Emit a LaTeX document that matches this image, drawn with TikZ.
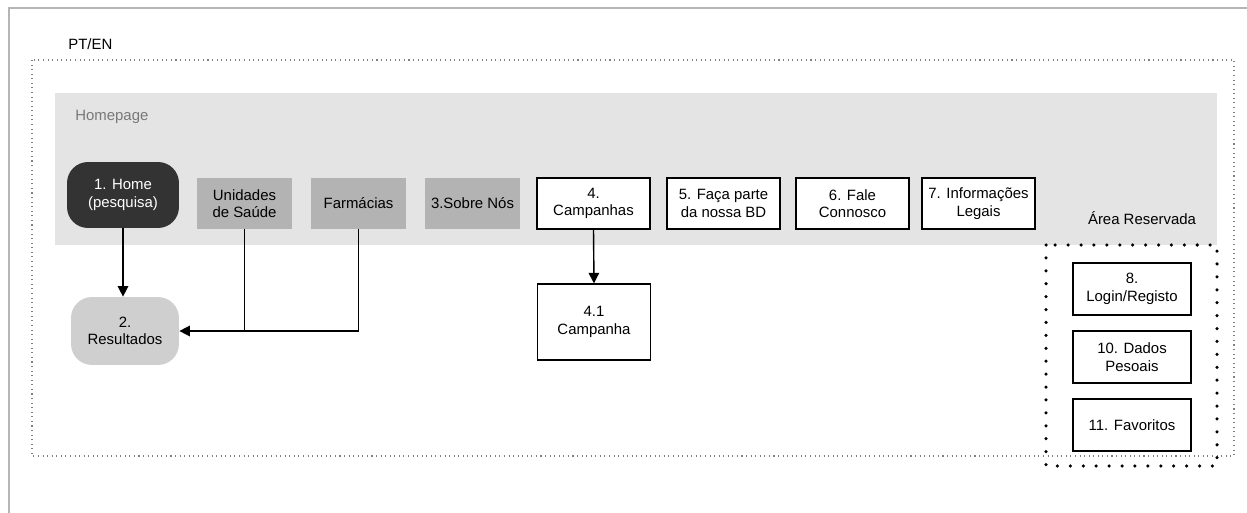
\documentclass[tikz,border=0pt]{standalone}
\usepackage{fontspec}
\setmainfont{Liberation Sans}
\usetikzlibrary{arrows.meta,positioning,calc}
\definecolor{FrameGray}{RGB}{181, 181, 181}
\definecolor{BandGray}{RGB}{228, 228, 228}
\definecolor{MenuGray}{RGB}{179, 179, 179}
\definecolor{ResultGray}{RGB}{207, 207, 207}
\definecolor{HomeDark}{RGB}{51, 51, 51}
\definecolor{LabelGray}{RGB}{120, 120, 120}

\tikzset{
  page/.style={font=\fontsize{8.5}{10}\selectfont, align=center, inner sep=0pt},
  menubox/.style={page, fill=MenuGray, minimum width=1.9cm, minimum height=1.02cm},
  linkbox/.style={page, draw, line width=0.7pt, fill=white, minimum width=2.26cm, minimum height=1.02cm},
  areabox/.style={page, draw, line width=0.7pt, fill=white, minimum width=2.36cm, minimum height=1.04cm},
  link/.style={line width=0.8pt, -{Triangle[length=6pt,width=6pt]}}
}

\begin{document}
\begin{tikzpicture}[x=0.02cm, y=-0.02cm]
  \useasboundingbox (0,0) rectangle (1247,513);

  % Outer frame
  \draw[FrameGray, line width=1.2pt] (1247,8) -- (9,8) -- (9,513);
  \node[page, anchor=west] (lang) at (68,44) {PT/EN};
  \draw[gray, line width=0.6pt, dotted] (32,60) rectangle (1234,456);

  % Homepage band
  \fill[BandGray] (55,93) rectangle (1217,245);
  \node[page, anchor=west, text=LabelGray] (homepage) at (75,117) {Homepage};

  % Menu
  \node[page, fill=HomeDark, text=white, rounded corners=0.42cm,
        minimum width=2.24cm, minimum height=1.32cm] (home) at (123,195) {1. Home\\(pesquisa)};
  \node[menubox] (unid) at (244.5,203.5) {Unidades\\de Saúde};
  \node[menubox] (farm) at (358.5,203.5) {Farmácias};
  \node[menubox] (sobre) at (472.5,203.5) {3.Sobre Nós};
  \node[linkbox] (camp) at (593.5,203.5) {4.\\Campanhas};
  \node[linkbox] (faca) at (723.5,203.5) {5. Faça parte\\da nossa BD};
  \node[linkbox] (fale) at (852.5,203.5) {6. Fale\\Connosco};
  \node[linkbox] (info) at (978.5,203.5) {7. Informações\\Legais};

  % Results and campaign
  \node[page, fill=ResultGray, rounded corners=0.42cm,
        minimum width=2.16cm, minimum height=1.36cm] (res) at (125,331) {2.\\Resultados};
  \node[linkbox, minimum height=1.52cm] (campone) at (594,322) {4.1\\Campanha};

  % Reserved area
  \node[page] (arealabel) at (1142,218) {Área Reservada};
  \draw[line width=2pt, line cap=round, dash pattern=on 0pt off 7.35pt]
    (1046,245) rectangle (1217,466);
  \node[areabox] (login) at (1132,289) {8.\\Login/Registo};
  \node[areabox] (dados) at (1132,357) {10. Dados\\Pesoais};
  \node[areabox] (fav) at (1132,425) {11. Favoritos};

  % Connectors
  \draw[link] (home.south) -- (home.south |- res.north);
  \draw[link] (farm.south) |- (res.east);
  \draw[line width=0.8pt] (unid.south) -- (unid.south |- res.east);
  \draw[link] (camp.south) -- (campone.north);
\end{tikzpicture}
\end{document}
